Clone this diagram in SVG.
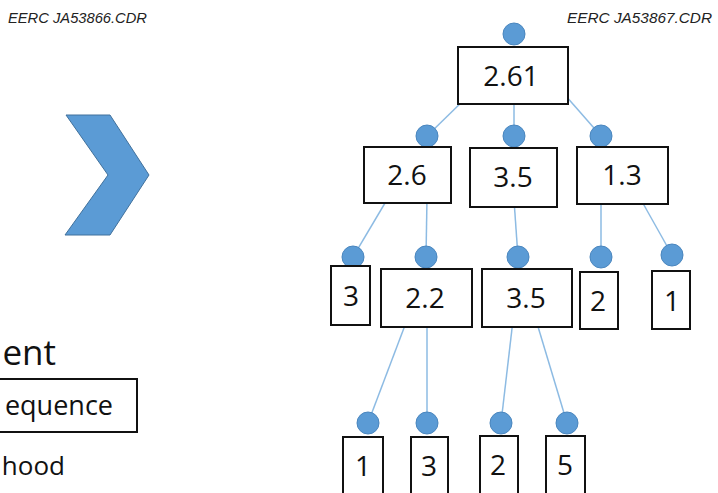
<svg xmlns="http://www.w3.org/2000/svg" width="718" height="493" viewBox="0 0 718 493">
  <style>
    .hdr { font-family: "Liberation Sans", Arial, sans-serif; font-style: italic; font-size: 14px; fill: #222; }
    .box { fill: #fff; stroke: #111; stroke-width: 2; }
    .val { font-family: "Open Sans", "Liberation Sans", sans-serif; font-size: 28px; fill: #111; text-anchor: middle; }
    .dot { fill: #5b9bd5; stroke: #4a86be; stroke-width: 1; }
    .edge { stroke: #8dbbe3; stroke-width: 1.5; fill: none; }
    .side { font-family: "Open Sans", "Liberation Sans", sans-serif; fill: #111; text-anchor: end; }
  </style>
  <rect width="718" height="493" fill="#fff"/>

  <!-- file labels -->
  <text class="hdr" x="8" y="23" textLength="139" lengthAdjust="spacingAndGlyphs">EERC JA53866.CDR</text>
  <text class="hdr" x="567" y="23" textLength="145" lengthAdjust="spacingAndGlyphs">EERC JA53867.CDR</text>

  <!-- chevron -->
  <polygon points="66,115 110,115 149,175 110,235 65,235 108,175" fill="#5b9bd5" stroke="#41719c" stroke-width="1"/>

  <!-- left panel fragments -->
  <text class="side" x="56" y="365" font-size="35">ent</text>
  <rect x="-10" y="379" width="147" height="53" class="box"/>
  <text class="side" x="113" y="415" font-size="27">equence</text>
  <text class="side" x="65" y="475" font-size="26">hood</text>

  <!-- connectors -->
  <g id="connectors">
    <line class="edge" x1="468" y1="96" x2="427" y2="136"/>
    <line class="edge" x1="514" y1="100" x2="514" y2="136"/>
    <line class="edge" x1="565" y1="95" x2="601" y2="136"/>
    <line class="edge" x1="388" y1="198" x2="353" y2="257"/>
    <line class="edge" x1="427" y1="198" x2="426" y2="257"/>
    <line class="edge" x1="514" y1="200" x2="518" y2="257"/>
    <line class="edge" x1="601" y1="198" x2="601" y2="257"/>
    <line class="edge" x1="640" y1="198" x2="672" y2="255"/>
    <line class="edge" x1="407" y1="320" x2="368" y2="423"/>
    <line class="edge" x1="427" y1="320" x2="427" y2="423"/>
    <line class="edge" x1="513" y1="320" x2="501" y2="423"/>
    <line class="edge" x1="536" y1="320" x2="567" y2="423"/>
  </g>

  <!-- level 1 -->
  <g id="n-root">
    <circle class="dot" cx="514" cy="34" r="11"/>
    <rect class="box" x="458" y="47" width="110" height="57"/>
    <text class="val" x="511" y="86">2.61</text>
  </g>

  <!-- level 2 -->
  <g id="n-2-6">
    <circle class="dot" cx="427" cy="136" r="11"/>
    <rect class="box" x="364" y="147" width="87" height="56"/>
    <text class="val" x="407" y="185">2.6</text>
  </g>
  <g id="n-3-5a">
    <circle class="dot" cx="514" cy="136" r="11"/>
    <rect class="box" x="470" y="148" width="87" height="59"/>
    <text class="val" x="513" y="187">3.5</text>
  </g>
  <g id="n-1-3">
    <circle class="dot" cx="601" cy="136" r="11"/>
    <rect class="box" x="577" y="147" width="91" height="57"/>
    <text class="val" x="622" y="185">1.3</text>
  </g>

  <!-- level 3 -->
  <g id="n-3">
    <circle class="dot" cx="353" cy="257" r="11"/>
    <rect class="box" x="331" y="266" width="39" height="59"/>
    <text class="val" x="351" y="306">3</text>
  </g>
  <g id="n-2-2">
    <circle class="dot" cx="426" cy="257" r="11"/>
    <rect class="box" x="381" y="269" width="91" height="58"/>
    <text class="val" x="425" y="308">2.2</text>
  </g>
  <g id="n-3-5b">
    <circle class="dot" cx="518" cy="257" r="11"/>
    <rect class="box" x="482" y="269" width="90" height="58"/>
    <text class="val" x="526" y="308">3.5</text>
  </g>
  <g id="n-2">
    <circle class="dot" cx="601" cy="257" r="11"/>
    <rect class="box" x="580" y="272" width="38" height="57"/>
    <text class="val" x="598" y="311">2</text>
  </g>
  <g id="n-1">
    <circle class="dot" cx="672" cy="255" r="11"/>
    <rect class="box" x="652" y="271" width="38" height="58"/>
    <text class="val" x="672" y="311">1</text>
  </g>

  <!-- level 4 -->
  <g id="n-leaf-1">
    <circle class="dot" cx="368" cy="423" r="11"/>
    <rect class="box" x="343" y="437" width="40" height="62"/>
    <text class="val" x="363" y="476">1</text>
  </g>
  <g id="n-leaf-3">
    <circle class="dot" cx="427" cy="423" r="11"/>
    <rect class="box" x="411" y="437" width="37" height="62"/>
    <text class="val" x="429" y="476">3</text>
  </g>
  <g id="n-leaf-2">
    <circle class="dot" cx="501" cy="423" r="11"/>
    <rect class="box" x="480" y="436" width="38" height="63"/>
    <text class="val" x="498" y="475">2</text>
  </g>
  <g id="n-leaf-5">
    <circle class="dot" cx="567" cy="423" r="11"/>
    <rect class="box" x="546" y="436" width="39" height="63"/>
    <text class="val" x="565" y="475">5</text>
  </g>
</svg>
